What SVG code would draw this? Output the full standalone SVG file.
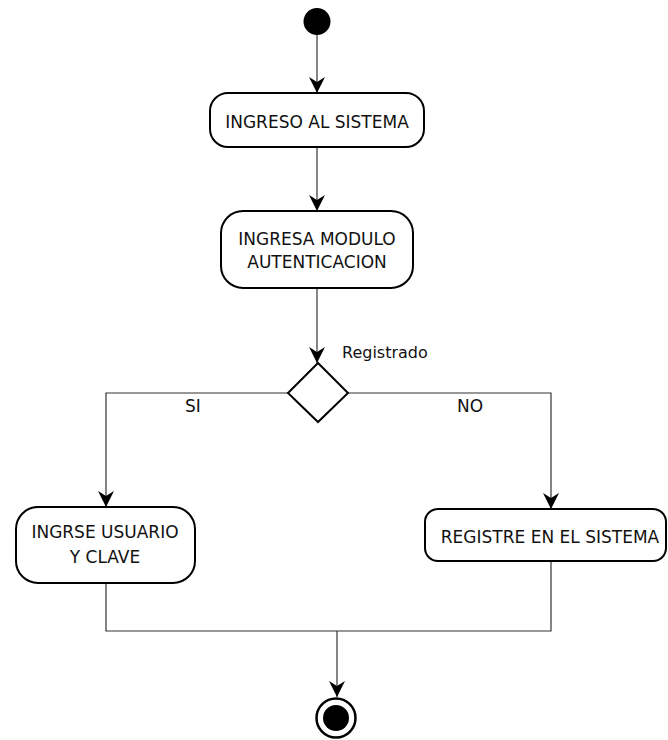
<svg xmlns="http://www.w3.org/2000/svg" width="668" height="740" viewBox="0 0 668 740">
<defs>
<marker id="arr" viewBox="0 0 16 16" refX="16" refY="8" markerWidth="16" markerHeight="16" markerUnits="userSpaceOnUse" orient="auto">
<path d="M0,0 L16,8 L0,16 L5,8 Z" fill="#000"/>
</marker>
</defs>
<style>
.box{fill:#fff;stroke:#000;stroke-width:2}
.t{font-family:"DejaVu Sans",Verdana,sans-serif;font-size:17px;fill:#111;text-anchor:middle}
.lbl{font-family:"DejaVu Sans",Verdana,sans-serif;font-size:16px;fill:#111}
.c{fill:none;stroke:#333;stroke-width:1.2}
</style>
<rect width="668" height="740" fill="#fff"/>
<g id="connectors">
<line class="c" x1="317" y1="35" x2="317" y2="93" marker-end="url(#arr)"/>
<line class="c" x1="317" y1="147" x2="317" y2="211" marker-end="url(#arr)"/>
<line class="c" x1="317" y1="288" x2="317" y2="363" marker-end="url(#arr)"/>
<polyline class="c" points="288,393 106,393 106,507" marker-end="url(#arr)"/>
<polyline class="c" points="348,393 551,393 551,509" marker-end="url(#arr)"/>
<polyline class="c" points="106,583 106,631 551,631 551,561"/>
<line class="c" x1="337" y1="631" x2="337" y2="697" marker-end="url(#arr)"/>
<text class="lbl" x="342" y="358">Registrado</text>
<text class="lbl" x="185" y="412" style="font-size:17px">SI</text>
<text class="lbl" x="457" y="412" style="font-size:17px">NO</text>
</g>
<g id="start">
<circle cx="317" cy="21.5" r="13.5" fill="#000"/>
</g>
<g id="ingreso">
<rect class="box" x="210" y="93" width="214" height="54" rx="18"/>
<text class="t" x="317" y="128">INGRESO AL SISTEMA</text>
</g>
<g id="modulo">
<rect class="box" x="221" y="211" width="192" height="77" rx="22"/>
<text class="t" x="317" y="245">INGRESA MODULO</text>
<text class="t" x="317" y="268">AUTENTICACION</text>
</g>
<g id="decision">
<polygon points="318,363 348,393 318,422 288,393" fill="#fff" stroke="#000" stroke-width="2"/>
</g>
<g id="usuario">
<rect class="box" x="16" y="507" width="179" height="76" rx="22"/>
<text class="t" x="105" y="538">INGRSE USUARIO</text>
<text class="t" x="105" y="563">Y CLAVE</text>
</g>
<g id="registre">
<rect class="box" x="425" y="509" width="241" height="52" rx="13"/>
<text class="t" x="550" y="543">REGISTRE EN EL SISTEMA</text>
</g>
<g id="end">
<circle cx="336" cy="718" r="19.5" fill="#fff" stroke="#000" stroke-width="2.5"/>
<circle cx="336" cy="718" r="13" fill="#000"/>
</g>
</svg>
